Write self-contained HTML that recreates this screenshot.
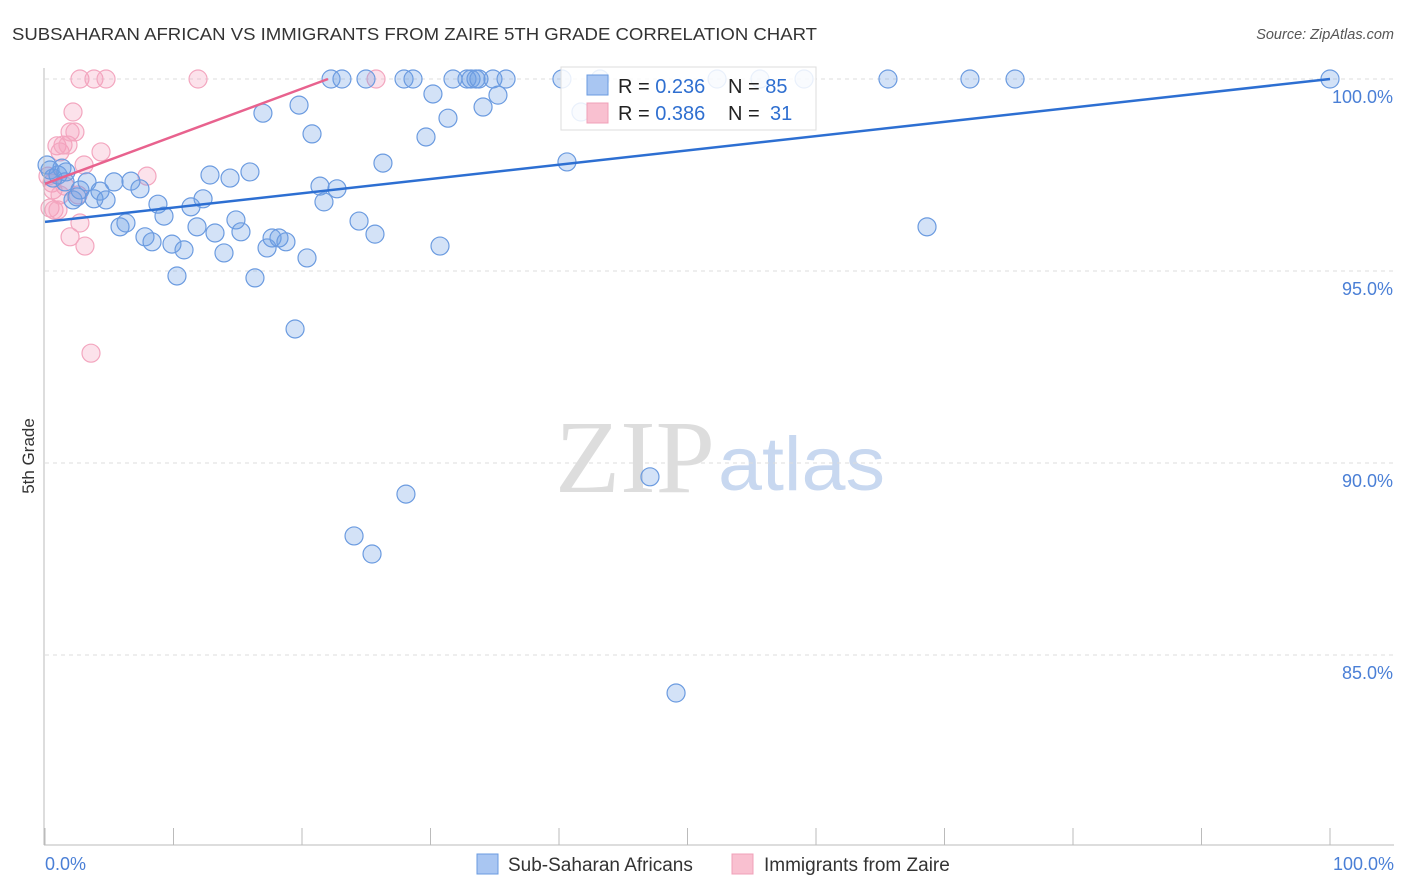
<!DOCTYPE html>
<html><head><meta charset="utf-8"><style>
body{margin:0;background:#fff;font-family:"Liberation Sans",sans-serif;}
svg{display:block}
</style></head><body>
<svg width="1406" height="892" id="chart">
<text x="12" y="40" font-size="17.5" fill="#333" textLength="805" lengthAdjust="spacingAndGlyphs">SUBSAHARAN AFRICAN VS IMMIGRANTS FROM ZAIRE 5TH GRADE CORRELATION CHART</text>
<text x="1394" y="39" font-size="14.5" fill="#555" font-style="italic" text-anchor="end">Source: ZipAtlas.com</text>
<text x="34" y="456" font-size="17" fill="#333" transform="rotate(-90 34 456)" text-anchor="middle">5th Grade</text>
<text x="555" y="492" font-size="104" fill="#ddd" font-family="Liberation Serif,serif" textLength="160" lengthAdjust="spacingAndGlyphs">ZIP</text>
<text x="718" y="490" font-size="76" fill="#c8d8f0" textLength="167" lengthAdjust="spacingAndGlyphs">atlas</text>
<g id="grid"></g><g id="pts"></g><g id="lines"></g>
<line x1="44" y1="68" x2="44" y2="845" stroke="#bbb"/>
<line x1="44" y1="845" x2="1394" y2="845" stroke="#bbb"/>
<text x="45" y="870" font-size="18" fill="#4a7fd6">0.0%</text>
<text x="1394" y="870" font-size="18" fill="#4a7fd6" text-anchor="end">100.0%</text>
<g>
<rect x="561" y="67" width="255" height="63" fill="#fff" fill-opacity="0.85" stroke="#ddd"/>
<rect x="587" y="75" width="21" height="20" fill="#a9c6f2" stroke="#6a9be0"/>
<rect x="587" y="103" width="21" height="20" fill="#f9c0d0" stroke="#f0a0b8"/>
<text x="618" y="93" font-size="20" fill="#222">R = <tspan fill="#2f6fd0">0.236</tspan><tspan x="728">N = </tspan><tspan fill="#2f6fd0">85</tspan></text>
<text x="618" y="120" font-size="20" fill="#222">R = <tspan fill="#2f6fd0">0.386</tspan><tspan x="728">N = </tspan><tspan fill="#2f6fd0" x="770">31</tspan></text>
</g>
<rect x="477" y="854" width="21" height="20" fill="#a9c6f2" stroke="#6a9be0"/>
<text x="508" y="871" font-size="19" fill="#333">Sub-Saharan Africans</text>
<rect x="732" y="854" width="21" height="20" fill="#f9c0d0" stroke="#f0a0b8"/>
<text x="764" y="871" font-size="19" fill="#333">Immigrants from Zaire</text>
</svg>
<script>
const blueX=[0.16,0.39,0.62,1.01,1.32,1.63,1.56,2.18,2.49,2.72,3.27,3.81,4.28,4.75,5.37,5.84,6.30,6.69,7.39,7.78,8.33,8.79,9.26,9.88,10.27,10.82,11.36,11.83,12.30,12.84,13.23,13.93,14.40,14.86,15.25,15.95,16.34,16.96,17.28,17.67,18.21,18.75,19.46,19.77,20.39,20.78,21.40,21.71,22.72,22.26,23.11,24.05,24.44,24.98,25.45,25.68,26.30,28.09,27.94,28.64,29.65,30.19,30.74,31.36,31.75,32.84,33.15,33.54,33.77,34.09,34.86,35.25,35.88,40.23,40.62,41.71,43.19,47.08,49.11,52.30,55.64,59.07,65.60,68.64,71.98,75.49,100];
const blueY=[97.76,97.63,97.42,97.5,97.68,97.58,97.32,96.85,96.93,97.11,97.32,96.88,97.08,96.85,97.32,96.15,96.25,97.34,97.14,95.89,95.76,96.74,96.43,95.70,94.87,95.55,96.67,96.15,96.88,97.50,95.99,95.47,97.42,96.33,96.02,97.58,94.82,99.11,95.60,95.86,95.86,95.76,93.49,99.32,95.34,98.57,97.21,96.80,97.14,100,100,88.10,96.30,100,87.63,95.96,97.81,89.19,100,100,98.49,99.61,95.65,98.98,100,100,100,100,100,99.27,100,99.58,100,100,97.84,99.14,100,89.64,84.01,100,100,100,100,96.15,100,100,100];
const pinkX=[0.23,0.54,0.39,0.70,0.93,1.17,1.01,1.40,1.56,1.79,1.95,1.95,2.18,2.33,2.57,2.72,2.72,3.04,3.11,3.58,3.81,4.36,4.75,7.94,11.91,25.76,0.62,1.17];
const pinkY=[97.47,97.29,96.64,96.59,98.26,98.10,96.59,98.28,97.21,98.28,95.89,98.62,99.14,98.62,96.98,100,96.25,97.76,95.65,92.86,100,98.10,100,97.47,100,100,97.11,96.98];
const yTicks=[100,95,90,85];
const yTickLabels=["100.0%","95.0%","90.0%","85.0%"];
const xTicks=[0,10,20,30,40,50,60,70,80,90,100];
const blueTrend=[[0,96.28],[100,100]];
const pinkTrend=[[0,97.27],[22.02,100]];
const NS="http://www.w3.org/2000/svg";
const sx=v=>45+v*12.85, sy=v=>79+(100-v)*38.4;
function mk(tag,attrs,parent){const e=document.createElementNS(NS,tag);for(const k in attrs)e.setAttribute(k,attrs[k]);parent.appendChild(e);return e;}
const grid=document.getElementById('grid'),pts=document.getElementById('pts'),lines=document.getElementById('lines'),svg=document.getElementById('chart');
yTicks.forEach((t,i)=>{
 const l=mk('line',{x1:45,x2:1394,y1:sy(t),y2:sy(t),stroke:'#ddd','stroke-dasharray':'4,4'},grid);
 
 
 const tx=mk('text',{x:1393,y:sy(t)+24,'font-size':18,fill:'#4a7fd6','text-anchor':'end'},svg);
 tx.textContent=yTickLabels[i];
 
 
});
xTicks.forEach(t=>{
 const l=mk('line',{x1:sx(t),x2:sx(t),y1:828,y2:845,stroke:'#bbb'},grid);
 
 
});
pinkX.forEach((x,i)=>{
 const c=mk('circle',{cx:sx(x),cy:sy(pinkY[i]),r:9,fill:'rgba(245,160,190,0.3)',stroke:'#f3a6bf','stroke-width':1.2},pts);
 
 
});
blueX.forEach((x,i)=>{
 const c=mk('circle',{cx:sx(x),cy:sy(blueY[i]),r:9,fill:'rgba(110,160,230,0.3)',stroke:'#6b9be0','stroke-width':1.2},pts);
 
 
});
const bl=mk('line',{x1:sx(blueTrend[0][0]),y1:sy(blueTrend[0][1]),x2:sx(blueTrend[1][0]),y2:sy(blueTrend[1][1]),stroke:'#2d6fd2','stroke-width':2.5},lines);


const pl=mk('line',{x1:sx(pinkTrend[0][0]),y1:sy(pinkTrend[0][1]),x2:sx(pinkTrend[1][0]),y2:sy(pinkTrend[1][1]),stroke:'#e8628e','stroke-width':2.5},lines);


</script>
</body></html>
